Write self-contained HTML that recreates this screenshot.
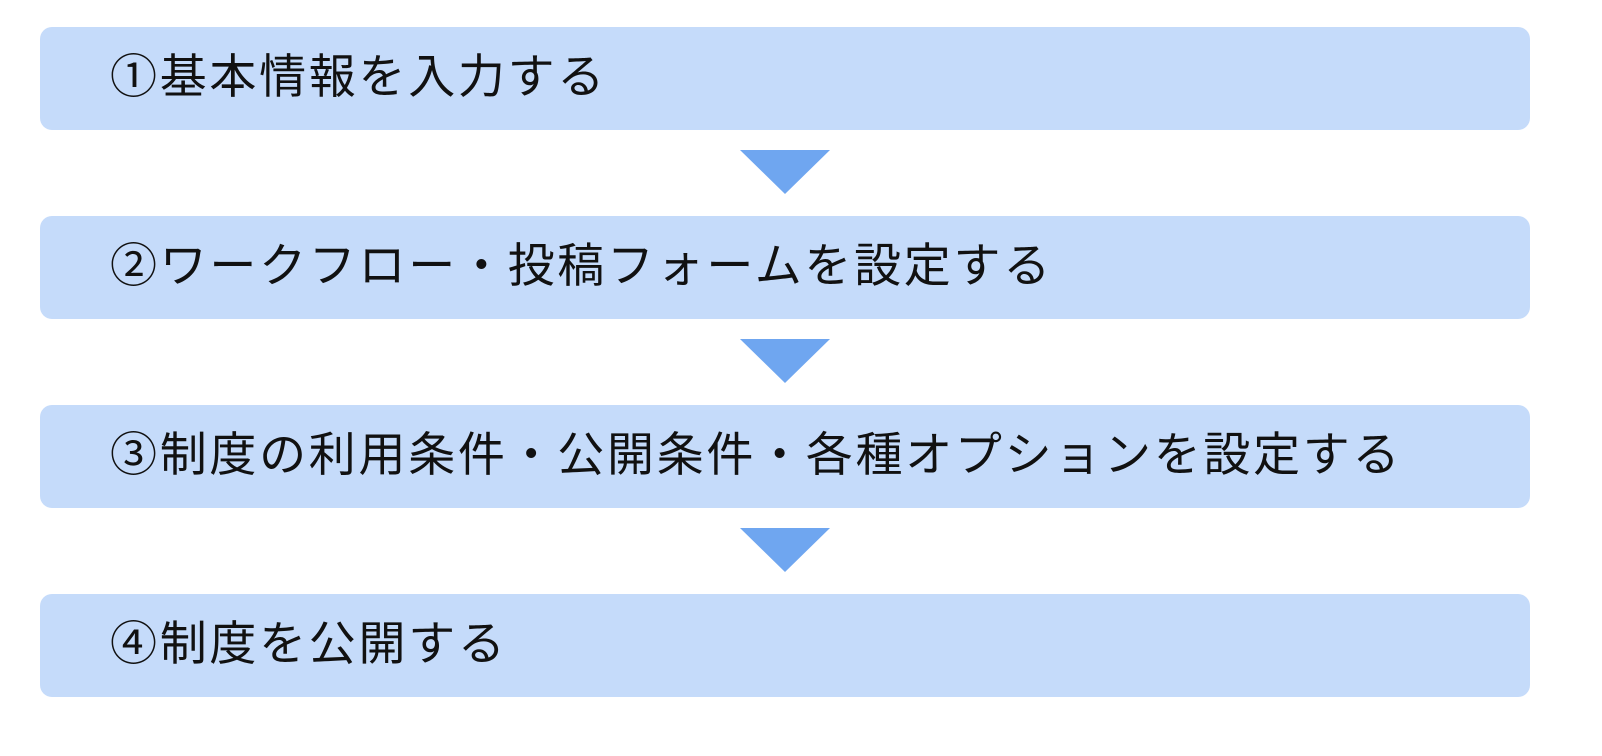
<!DOCTYPE html>
<html><head><meta charset="utf-8"><style>
body{margin:0;width:1602px;height:756px;background:#fff;position:relative;overflow:hidden;font-family:"Liberation Sans","Noto Sans CJK JP",sans-serif;}
.b{position:absolute;left:40px;width:1490px;height:103px;background:#c5dbfa;border-radius:12px;}
.b span{position:absolute;left:70px;font-size:47px;letter-spacing:2.7px;color:#111;line-height:1;top:26px;white-space:nowrap;}
.a{position:absolute;left:740px;width:0;height:0;border-left:45px solid transparent;border-right:45px solid transparent;border-top:44px solid #6fa6f0;}
</style></head><body>
<div class="b" style="top:27px"><span>①基本情報を入力する</span></div>
<div class="a" style="top:150px"></div>
<div class="b" style="top:216px"><span>②ワークフロー・投稿フォームを設定する</span></div>
<div class="a" style="top:339px"></div>
<div class="b" style="top:405px"><span>③制度の利用条件・公開条件・各種オプションを設定する</span></div>
<div class="a" style="top:528px"></div>
<div class="b" style="top:594px"><span>④制度を公開する</span></div>
</body></html>
